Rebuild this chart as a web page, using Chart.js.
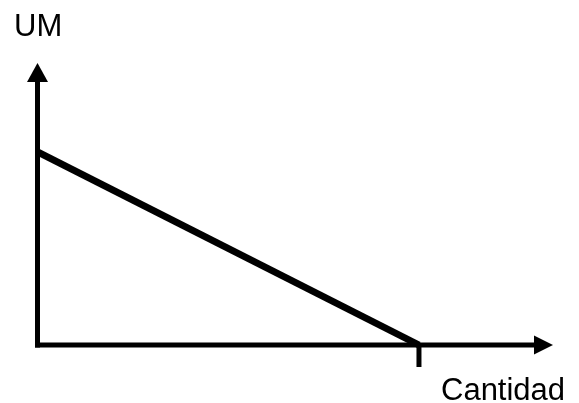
<!DOCTYPE html>
<html>
<head>
<meta charset="utf-8">
<script src="https://cdn.jsdelivr.net/npm/chart.js@4/dist/chart.umd.min.js"></script>
<style>
  html, body { margin: 0; padding: 0; background: #fff; }
  #wrap { width: 579px; height: 403px; }
</style>
</head>
<body>
<div id="wrap"><canvas id="chart" width="579" height="403"></canvas></div>
<script>
// Demand line: from the price intercept down to the quantity intercept
const cantidad = [0, 7.4];
const precio = [6.85, 0];
// marks on the quantity axis
const xMarks = [7.4];
const yTitle = 'UM';
const xTitle = 'Cantidad';

const FONT = '31px "Liberation Sans", Arial, sans-serif';

// Draws the arrowed axes, tick mark and axis labels from the scales
const axesPlugin = {
    id: 'arrowAxes',
    afterDatasetsDraw(chart) {
        const ctx = chart.ctx;
        const xs = chart.scales.x;
        const ys = chart.scales.y;
        const x0 = xs.getPixelForValue(0);
        const y0 = ys.getPixelForValue(0);
        const xEnd = xs.getPixelForValue(xs.max);
        const yEnd = ys.getPixelForValue(ys.max);

        ctx.save();
        ctx.strokeStyle = '#000';
        ctx.fillStyle = '#000';
        ctx.lineWidth = 5;
        ctx.lineCap = 'butt';

        // y axis
        ctx.beginPath();
        ctx.moveTo(x0, y0 + 2.5);
        ctx.lineTo(x0, yEnd + 19);
        ctx.stroke();
        ctx.beginPath();
        ctx.moveTo(x0, yEnd);
        ctx.lineTo(x0 - 10.5, yEnd + 19);
        ctx.lineTo(x0 + 10.5, yEnd + 19);
        ctx.closePath();
        ctx.fill();

        // x axis
        ctx.beginPath();
        ctx.moveTo(x0 - 2.5, y0);
        ctx.lineTo(xEnd - 19, y0);
        ctx.stroke();
        ctx.beginPath();
        ctx.moveTo(xEnd, y0);
        ctx.lineTo(xEnd - 19, y0 - 9.5);
        ctx.lineTo(xEnd - 19, y0 + 9.5);
        ctx.closePath();
        ctx.fill();

        // tick marks
        xMarks.forEach(v => {
            const px = xs.getPixelForValue(v);
            ctx.beginPath();
            ctx.moveTo(px, y0);
            ctx.lineTo(px, y0 + 22);
            ctx.stroke();
        });

        // labels
        ctx.font = FONT;
        ctx.textBaseline = 'alphabetic';
        ctx.textAlign = 'left';
        ctx.fillText(yTitle, 14, 36);
        ctx.fillText(xTitle, 441, 400);
        ctx.restore();
    }
};

new Chart(document.getElementById('chart'), {
    type: 'scatter',
    data: {
        datasets: [{
            data: cantidad.map((c, i) => ({ x: c, y: precio[i] })),
            showLine: true,
            borderColor: '#000',
            borderWidth: 7,
            pointRadius: 0,
            borderCapStyle: 'butt',
            clip: false
        }]
    },
    options: {
        responsive: false,
        animation: false,
        layout: { padding: { left: 37.5, right: 26, top: 63, bottom: 58 } },
        plugins: {
            legend: { display: false },
            tooltip: { enabled: false }
        },
        scales: {
            x: { type: 'linear', min: 0, max: 10, display: false },
            y: { type: 'linear', min: 0, max: 10, display: false }
        }
    },
    plugins: [axesPlugin]
});
</script>
</body>
</html>
